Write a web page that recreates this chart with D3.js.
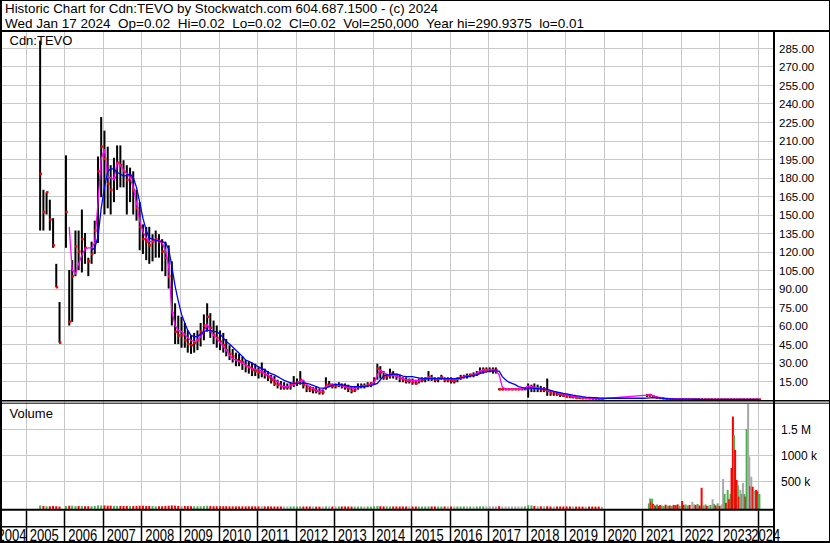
<!DOCTYPE html>
<html><head><meta charset="utf-8">
<script src="https://cdn.jsdelivr.net/npm/d3@7"></script>
<style>
html,body{margin:0;padding:0;background:#fff;}
svg{display:block;}
</style></head><body>
<svg id="c" width="830" height="543"></svg>
<script>
// ---------------- DATA ----------------
const title = "Historic Chart for Cdn:TEVO by Stockwatch.com 604.687.1500 - (c) 2024";
const quote = "Wed Jan 17 2024  Op=0.02  Hi=0.02  Lo=0.02  Cl=0.02  Vol=250,000  Year hi=290.9375  lo=0.01";
const symbol = "Cdn:TEVO";
const volumeTitle = "Volume";
const firstMonth = "2005-05";
const lastMonth = "2024-01";

const high = [
 291,170,168,162,147,110,79,null,
 198,105,113,137,137,154,135,115,128,145,197,229,
 218,205,190,196,206,206,194,190,188,185,170,160,
 142,140,140,134,137,134,130,128,125,112,78,68,
 67,62,56,52,54,56,62,69,78,70,64,60,
 56,54,49,44,41,38,37,35,32,31,30,29,
 26,30,25,23,20,19,16,15,14,13,14,19,
 17,23,16,12,11,10,10,9,8,18,15,13,
 13,14,13,13,12,10,11,13,13,13,14,14,
 18,29,27,23,21,25,23,21,20,18,18,17,
 17,16,17,18,18,23,20,18,18,20,18,18,
 18,17,18,20,20,21,21,22,23,26,26,26,
 26,26,26,9,9,9,9,9,9,9,9,9,
 13,12,13,12,11,10,17,7,6.5,6,5,4.5,
 4,3.5,3,2.5,2,1.8,1.5,1.2,1,1,0.8,0.8,
 null,null,null,null,null,null,null,null,null,null,null,null,
 null,4.5,4.6,3.5,2.5,2,1.5,1,0.6,0.4,0.3,0.3,
 0.25,0.22,0.2,0.2,0.18,0.16,0.14,0.13,0.12,0.12,0.11,0.1,
 0.1,0.1,0.09,0.08,0.08,0.07,0.06,0.06,0.05,0.05,0.04,0.04,
 0.02
];
const low = [
 137,137,150,137,123,91,46,null,
 123,60,63,100,105,103,110,100,110,118,127,164,
 150,155,150,160,170,172,172,150,160,150,145,121,
 118,113,110,112,115,115,104,100,90,60,45,45,
 42,42,38,37,38,40,43,48,55,50,45,42,
 40,38,35,32,30,27,27,24,22,21,19,19,
 17,18,17,15,13,11,9,8,8,8,8,10,
 11,12,9,6,6,5,5,4,4,8,10,9,
 9,10,9,8,6,5,6,8,9,9,10,10,
 12,16,17,16,16,17,17,16,14,14,13,13,
 12,12,13,14,14,15,15,14,14,16,14,14,
 13,13,14,16,17,17,18,18,19,21,21,22,
 22,21,21,7.5,7.5,7.5,7.5,7.5,7.5,7.5,7.5,7.5,
 1.5,6,6,6,6,6,3,3,3,3,2,2,
 1.5,1.2,1,0.8,0.6,0.5,0.5,0.4,0.4,0.3,0.3,0.3,
 null,null,null,null,null,null,null,null,null,null,null,null,
 null,2,2.3,1.5,1,0.8,0.5,0.3,0.2,0.15,0.15,0.15,
 0.15,0.13,0.12,0.11,0.1,0.09,0.08,0.08,0.07,0.07,0.06,0.06,
 0.05,0.05,0.05,0.04,0.04,0.03,0.03,0.03,0.02,0.02,0.02,0.01,
 0.02
];
const close = [
 183,152,168,146,125,91,46,null,
 152,63,100,124,120,130,123,112,118,137,185,205,
 195,175,170,180,192,190,185,178,180,170,155,140,
 130,128,125,128,130,128,120,115,100,70,55,52,
 52,48,45,44,46,48,55,60,67,58,52,50,
 47,44,40,37,35,32,31,30,27,26,24,23,
 22,22,20,18,16,13,12,10,10,10,12,13,
 14,16,12,9,8,8,7,6,6,12,12,11,
 11,12,11,10,9,7,8,10,11,11,12,13,
 16,25,22,18,19,21,20,19,17,16,15,15,
 14,13,15,16,17,18,17,16,17,18,16,16,
 15,15,17,18,19,19,20,20,21,23,24,24,
 24,24,24,8.3,8.3,8.3,8.3,8.3,8.3,8.3,8.3,8.5,
 9,10,9,9,8,8,7,5,5,4.5,4,3,
 2.5,2,2,1.5,1.2,1,1,0.8,0.7,0.6,0.5,0.5,
 null,null,null,null,null,null,null,null,null,null,null,null,
 null,3.5,3.5,2.5,1.5,1.2,0.8,0.5,0.3,0.2,0.2,0.2,
 0.2,0.18,0.17,0.15,0.13,0.12,0.1,0.1,0.09,0.09,0.08,0.08,
 0.07,0.07,0.06,0.06,0.05,0.05,0.04,0.04,0.03,0.03,0.03,0.02,
 0.02
];
// short moving average (magenta)
const maShort = [
 null,null,null,null,null,null,null,null,
 null,140,105,102,110,117,122,123,123,127,160,195,
 203,180,180,178,192,190,186,183,180,172,159,145,
 136,131,128,128,129,129,127,121,108,72,60,56,
 55,53,50,48,47,48,51,55,61,56,52,50,
 46,43,40,36,33,32,30.7,29.5,28,26.5,25.3,24.5,
 24,23,21,20,18,16,14.5,11,10.5,10.5,11,12,
 13,15,15.5,12,10.4,9,7.7,6.5,8,10.4,11.5,11.8,
 11.8,11.5,11,10.5,10,9.3,9.3,10,10.5,11,11.5,12,
 14,20,24,22,20,19,19.5,19,18,17,16,15.8,
 15.5,15,15.5,16.5,17,18,18,17,16.5,17,17,16.5,
 16.5,16,16.5,17.5,18.5,19,19.5,20,21,23,24,24,
 24,24,23,20,10,8.5,8.5,8.3,8.3,8.3,8.5,9.5,
 11,10.5,10,9.5,9,8.5,8,7,6.5,6,5,4.5,
 3.8,3.2,2.8,2.2,1.9,1.6,1.4,1.2,1,0.8,0.7,0.6,
 null,null,null,null,null,null,null,null,null,null,null,null,
 null,3.5,4,3.2,2.2,1.6,1.1,0.7,0.5,0.4,0.3,0.3,
 0.25,0.2,0.2,0.18,0.15,0.15,0.12,0.12,0.1,0.1,0.1,0.1,
 0.1,0.08,0.08,0.08,0.07,0.06,0.05,0.05,0.04,0.04,0.03,0.03,
 0.02
];
// long moving average (blue)
const maLong = [
 null,null,null,null,null,null,null,null,
 null,null,null,null,null,null,null,null,121,123,132,155,
 172,185,187,187,184,183,181,182,183,180,172,160,
 147,137,131,130,129,128.5,128,127,122,108,92,80,
 69,62,56,52,51,51,53,55,56,56,55,55,
 53,50,47,45,42.5,40,37.5,35,32,31,29.5,28,
 26.5,25,24,22,21,20,18.5,17,15.5,14.5,13.5,13,
 13,13,13.5,13,12.5,11.5,10.5,9.5,9.3,9.5,10.5,11.5,
 12,12,11.8,11.5,11,10.5,10.4,10.4,10.4,10.5,11,11.5,
 12,13,16,19,20,20,20.5,20.5,20,19,18.5,18.5,
 18.5,18,17.5,17,17,17,17,17,17,17,17,17,
 17,17,17,17.5,18,18.5,19,19.5,20,21,22,22.5,
 23,23,23,23,18.5,16,14,13,12,10.4,9.8,9.3,
 9.3,9.2,9,8.8,8.6,8.4,8.2,7.5,6.5,6,5.5,5,
 4.6,4,3.5,3.1,2.8,2.3,1.9,1.8,1.6,1.4,1.2,1.1,
 1,1,1,1,1,1,1,1,1,1,1,1,
 1,1.1,1.3,1.4,1.3,1.1,0.9,0.7,0.5,0.4,0.35,0.3,
 0.3,0.28,0.26,0.24,0.22,0.2,0.18,0.17,0.16,0.15,0.14,0.13,
 0.12,0.11,0.1,0.1,0.09,0.08,0.07,0.07,0.06,0.06,0.05,0.05,
 0.04
];
// monthly volume 2005-2019 (thousands of shares)
const volMonthly = [
 30,20,15,15,20,15,10,null,
 20,25,25,20,20,20,15,15,15,20,30,30,
 30,25,25,20,20,20,20,20,20,20,20,25,
 25,20,20,20,15,15,15,20,25,30,25,20,
 20,20,20,15,15,15,15,20,25,20,15,15,
 15,15,15,12,12,12,12,12,12,12,12,12,
 12,15,12,12,10,10,10,10,10,10,10,12,
 10,12,10,10,10,10,8,8,8,12,10,10,
 10,10,10,10,10,8,8,8,10,10,10,10,
 12,20,15,12,12,12,10,10,10,10,10,10,
 10,10,10,10,10,12,10,10,10,10,10,10,
 10,10,10,10,10,10,10,10,10,12,12,12,
 12,12,12,15,10,10,10,10,10,10,10,12,
 35,30,20,15,12,12,15,10,10,10,10,10,
 10,10,10,8,8,8,8,8,8,8,8,8,
 null,null,null,null,null,null,null,null,null,null,null,null,
 null,null,null,null,null,null,null,null,null,null,null,null,
 null,null,null,null,null,null,null,null,null,null,null,null,
 null,null,null,null,null,null,null,null,null,null,null,null,
 null
];
// recent volume bars (2021-2024)
const volDates = [
 "2021-03-05","2021-03-17","2021-03-28","2021-04-05","2021-04-14","2021-04-24","2021-05-08","2021-05-22",
 "2021-06-05","2021-06-20","2021-07-04","2021-07-23","2021-08-11","2021-08-30","2021-09-18","2021-10-07",
 "2021-10-26","2021-11-14","2021-12-03","2021-12-22","2022-01-14","2022-01-28","2022-02-16","2022-03-07",
 "2022-03-26","2022-04-21","2022-05-08","2022-05-22","2022-06-10","2022-06-29","2022-07-18","2022-08-06",
 "2022-08-25","2022-09-08","2022-09-22","2022-10-11","2022-10-30","2022-11-14","2022-11-28","2022-12-17",
 "2023-01-05","2023-01-24","2023-02-07","2023-02-21","2023-03-07","2023-03-22","2023-04-05","2023-04-19",
 "2023-04-28","2023-05-11","2023-05-22","2023-06-01","2023-06-15","2023-06-27","2023-07-09","2023-07-20",
 "2023-08-01","2023-08-14","2023-08-27","2023-09-08","2023-09-18","2023-10-02","2023-10-13","2023-10-23",
 "2023-11-01","2023-11-14","2023-11-25","2023-12-05","2023-12-17","2023-12-28","2024-01-09","2024-01-17"
];
const volValues = [
 70,163,100,160,60,40,25,50,
 20,40,30,20,45,25,30,20,
 40,35,50,25,115,40,50,30,
 40,100,50,40,60,30,370,30,
 50,20,30,40,150,60,30,70,
 20,50,540,250,80,330,150,250,
 750,1740,1380,1100,520,420,200,330,
 250,460,250,200,1500,1980,970,400,
 580,390,310,250,330,300,250,250
];
// 1 = up (green), -1 = down (red), 0 = unchanged (grey)
const volDir = [
 1,1,-1,1,-1,1,-1,1,
 -1,-1,1,1,-1,1,-1,1,
 -1,-1,-1,1,-1,-1,1,1,
 -1,0,0,-1,1,-1,-1,1,
 1,-1,0,1,0,1,-1,1,
 -1,0,0,1,-1,1,-1,1,
 -1,-1,1,-1,-1,1,-1,0,
 1,0,1,-1,1,0,0,-1,
 0,-1,1,0,-1,-1,1,1
];
const priceTicks = [15,30,45,60,75,90,105,120,135,150,165,180,195,210,225,240,255,270,285];
const volTicks = [500000,1000000,1500000];
const volTickLabels = ["500 k","1000 k","1.5 M"];
const yearLabels = [2004,2005,2006,2007,2008,2009,2010,2011,2012,2013,2014,2015,2016,2017,2018,2019,2020,2021,2022,2023,2024];

// ---------------- CHART ----------------
const svg = d3.select("#c");
const FONT = "'Liberation Sans', Arial, sans-serif";
const NARROW = "'Liberation Sans Narrow', 'Arial Narrow', 'Liberation Sans', Arial, sans-serif";
const PL = 2, PR = 774, PT = 32, PB = 400, VT = 403, VB = 509;
const GRID = "#c8c8c8";

const pm = d3.timeParse("%Y-%m"), pd = d3.timeParse("%Y-%m-%d");
const x = d3.scaleTime().domain([new Date(2005,0,1), new Date(2024,0,1)]).range([26, 757.7]);
const yP = d3.scaleLinear().domain([0,300]).range([399.5,29.5]);
const yV = d3.scaleLinear().domain([0,2000000]).range([507,403]);

const months = d3.timeMonth.range(pm(firstMonth), d3.timeMonth.offset(pm(lastMonth),1));
const rows = months.map((m,i)=>({date:d3.timeDay.offset(m,14), h:high[i], l:low[i], c:close[i], ms:maShort[i], ml:maLong[i], v:volMonthly[i]}));

svg.append("rect").attr("width",830).attr("height",543).attr("fill","#fff");

const defs = svg.append("defs");
defs.append("clipPath").attr("id","cp").append("rect").attr("x",PL).attr("y",PT).attr("width",PR-PL).attr("height",PB-PT);
defs.append("clipPath").attr("id","cv").append("rect").attr("x",PL).attr("y",VT+0.5).attr("width",PR-PL).attr("height",VB-VT);

const yearBounds = d3.timeYear.range(new Date(2005,0,1), new Date(2024,0,2));
const snap = v => Math.round(v)+0.5;

// grid
const grid = svg.append("g").attr("stroke",GRID).attr("stroke-width",1);
grid.selectAll(".hp").data(priceTicks).join("line")
  .attr("x1",PL).attr("x2",PR).attr("y1",d=>snap(yP(d))).attr("y2",d=>snap(yP(d)));
grid.selectAll(".hv").data(volTicks).join("line").attr("class","hv")
  .attr("x1",PL).attr("x2",PR).attr("y1",d=>snap(yV(d))).attr("y2",d=>snap(yV(d)));
grid.selectAll(".vp").data(yearBounds).join("line").attr("class","vp")
  .attr("x1",d=>snap(x(d))).attr("x2",d=>snap(x(d))).attr("y1",PT).attr("y2",VB);

// price bars
const pg = svg.append("g").attr("clip-path","url(#cp)");
const valid = rows.filter(d=>d.h!=null);
pg.selectAll(".bar").data(valid).join("rect")
  .attr("x",d=>x(d.date)-1).attr("width",2)
  .attr("y",d=>yP(d.h)).attr("height",d=>Math.max(1,yP(d.l)-yP(d.h)))
  .attr("fill","#000");
pg.selectAll(".cl").data(valid).join("rect")
  .attr("x",d=>x(d.date)-0.5).attr("width",2.4)
  .attr("y",d=>yP(d.c)-1.2).attr("height",2.4)
  .attr("fill","#ff0000");
pg.append("path").datum(rows.filter(d=>d.ms!=null))
  .attr("d",d3.line().x(d=>x(d.date)).y(d=>yP(d.ms))).attr("fill","none").attr("stroke","#ff00ff").attr("stroke-width",1.3);
pg.append("path").datum(rows.filter(d=>d.ml!=null))
  .attr("d",d3.line().x(d=>x(d.date)).y(d=>yP(d.ml))).attr("fill","none").attr("stroke","#0000ff").attr("stroke-width",1.3);

// volume
const vg = svg.append("g").attr("clip-path","url(#cv)");
const colDir = d => d>0 ? "#4caf50" : (d<0 ? "#ff0000" : "#a8a8a8");
const mv = rows.map((d,i)=>{
  let dir = 1;
  if (i>0 && rows[i-1].c!=null && d.c!=null) dir = d.c>rows[i-1].c?1:(d.c<rows[i-1].c?-1:0);
  return {date:d.date, v:d.v, dir};
}).filter(d=>d.v!=null);
vg.selectAll(".vm").data(mv).join("rect")
  .attr("x",d=>x(d.date)-1).attr("width",2)
  .attr("y",d=>yV(d.v*1000)).attr("height",d=>VB-yV(d.v*1000))
  .attr("fill",d=>colDir(d.dir));
const rv = volDates.map((s,i)=>({date:pd(s), v:volValues[i]*1000, dir:volDir[i]}));
vg.selectAll(".vr").data(rv).join("rect")
  .attr("x",d=>x(d.date)-1).attr("width",2)
  .attr("y",d=>yV(d.v)).attr("height",d=>VB-yV(d.v))
  .attr("fill",d=>colDir(d.dir));

// frame lines
const fr = svg.append("g").attr("stroke","#000");
const hl = (x1,x2,y,w)=>fr.append("line").attr("x1",x1).attr("x2",x2).attr("y1",y).attr("y2",y).attr("stroke-width",w);
const vl = (xx,y1,y2,w)=>fr.append("line").attr("x1",xx).attr("x2",xx).attr("y1",y1).attr("y2",y2).attr("stroke-width",w);
hl(0,830,0.5,1);
hl(0,830,31,2);
hl(0,830,400.8,1.5);
hl(0,830,403.2,1);
hl(0,PR,509.8,2);
hl(0,PR,526.8,1.5);
hl(0,830,542,2);
vl(1,0,543,2);
vl(829.5,0,543,1);
vl(PR,31,543,2);
fr.selectAll(".ys").data(yearBounds).join("line")
  .attr("x1",d=>snap(x(d))).attr("x2",d=>snap(x(d))).attr("y1",510.5).attr("y2",541).attr("stroke-width",1.5);

// axes labels
const ax = svg.append("g").attr("transform",`translate(${PR},0)`)
  .call(d3.axisRight(yP).tickValues(priceTicks).tickFormat(d3.format(".2f")).tickSize(0).tickPadding(5));
ax.select(".domain").remove();
ax.selectAll("text").attr("font-family",FONT).attr("font-size",11.5).attr("fill","#000").attr("dy","0.35em");
const av = svg.append("g").attr("transform",`translate(${PR},0)`)
  .call(d3.axisRight(yV).tickValues(volTicks).tickFormat((d,i)=>volTickLabels[i]).tickSize(0).tickPadding(7));
av.select(".domain").remove();
av.selectAll("text").attr("font-family",FONT).attr("font-size",12).attr("fill","#000").attr("dy","0.35em");

// year labels
svg.append("g").selectAll("text").data(yearLabels).join("text")
  .attr("x",d=>{const a=Math.max(x(new Date(d,0,1)),0), b=Math.min(x(new Date(d+1,0,1)),776); return (a+b)/2-1;})
  .attr("y",540.5).attr("text-anchor","middle")
  .attr("font-family",NARROW).attr("font-size",16)
  .attr("textLength",29).attr("lengthAdjust","spacingAndGlyphs")
  .attr("fill","#000").text(d=>d);

// titles
const tx = svg.append("g").attr("font-family",FONT).attr("fill","#000");
tx.append("text").attr("x",5).attr("y",12.5).attr("font-size",13.5).attr("textLength",433).attr("lengthAdjust","spacingAndGlyphs").text(title);
tx.append("text").attr("x",5).attr("y",28).attr("font-size",13.5).attr("textLength",579).attr("lengthAdjust","spacingAndGlyphs").style("white-space","pre").text(quote);
tx.append("text").attr("x",9.5).attr("y",45).attr("font-size",13).text(symbol);
tx.append("text").attr("x",9.5).attr("y",418).attr("font-size",13).text(volumeTitle);
</script>
</body></html>
